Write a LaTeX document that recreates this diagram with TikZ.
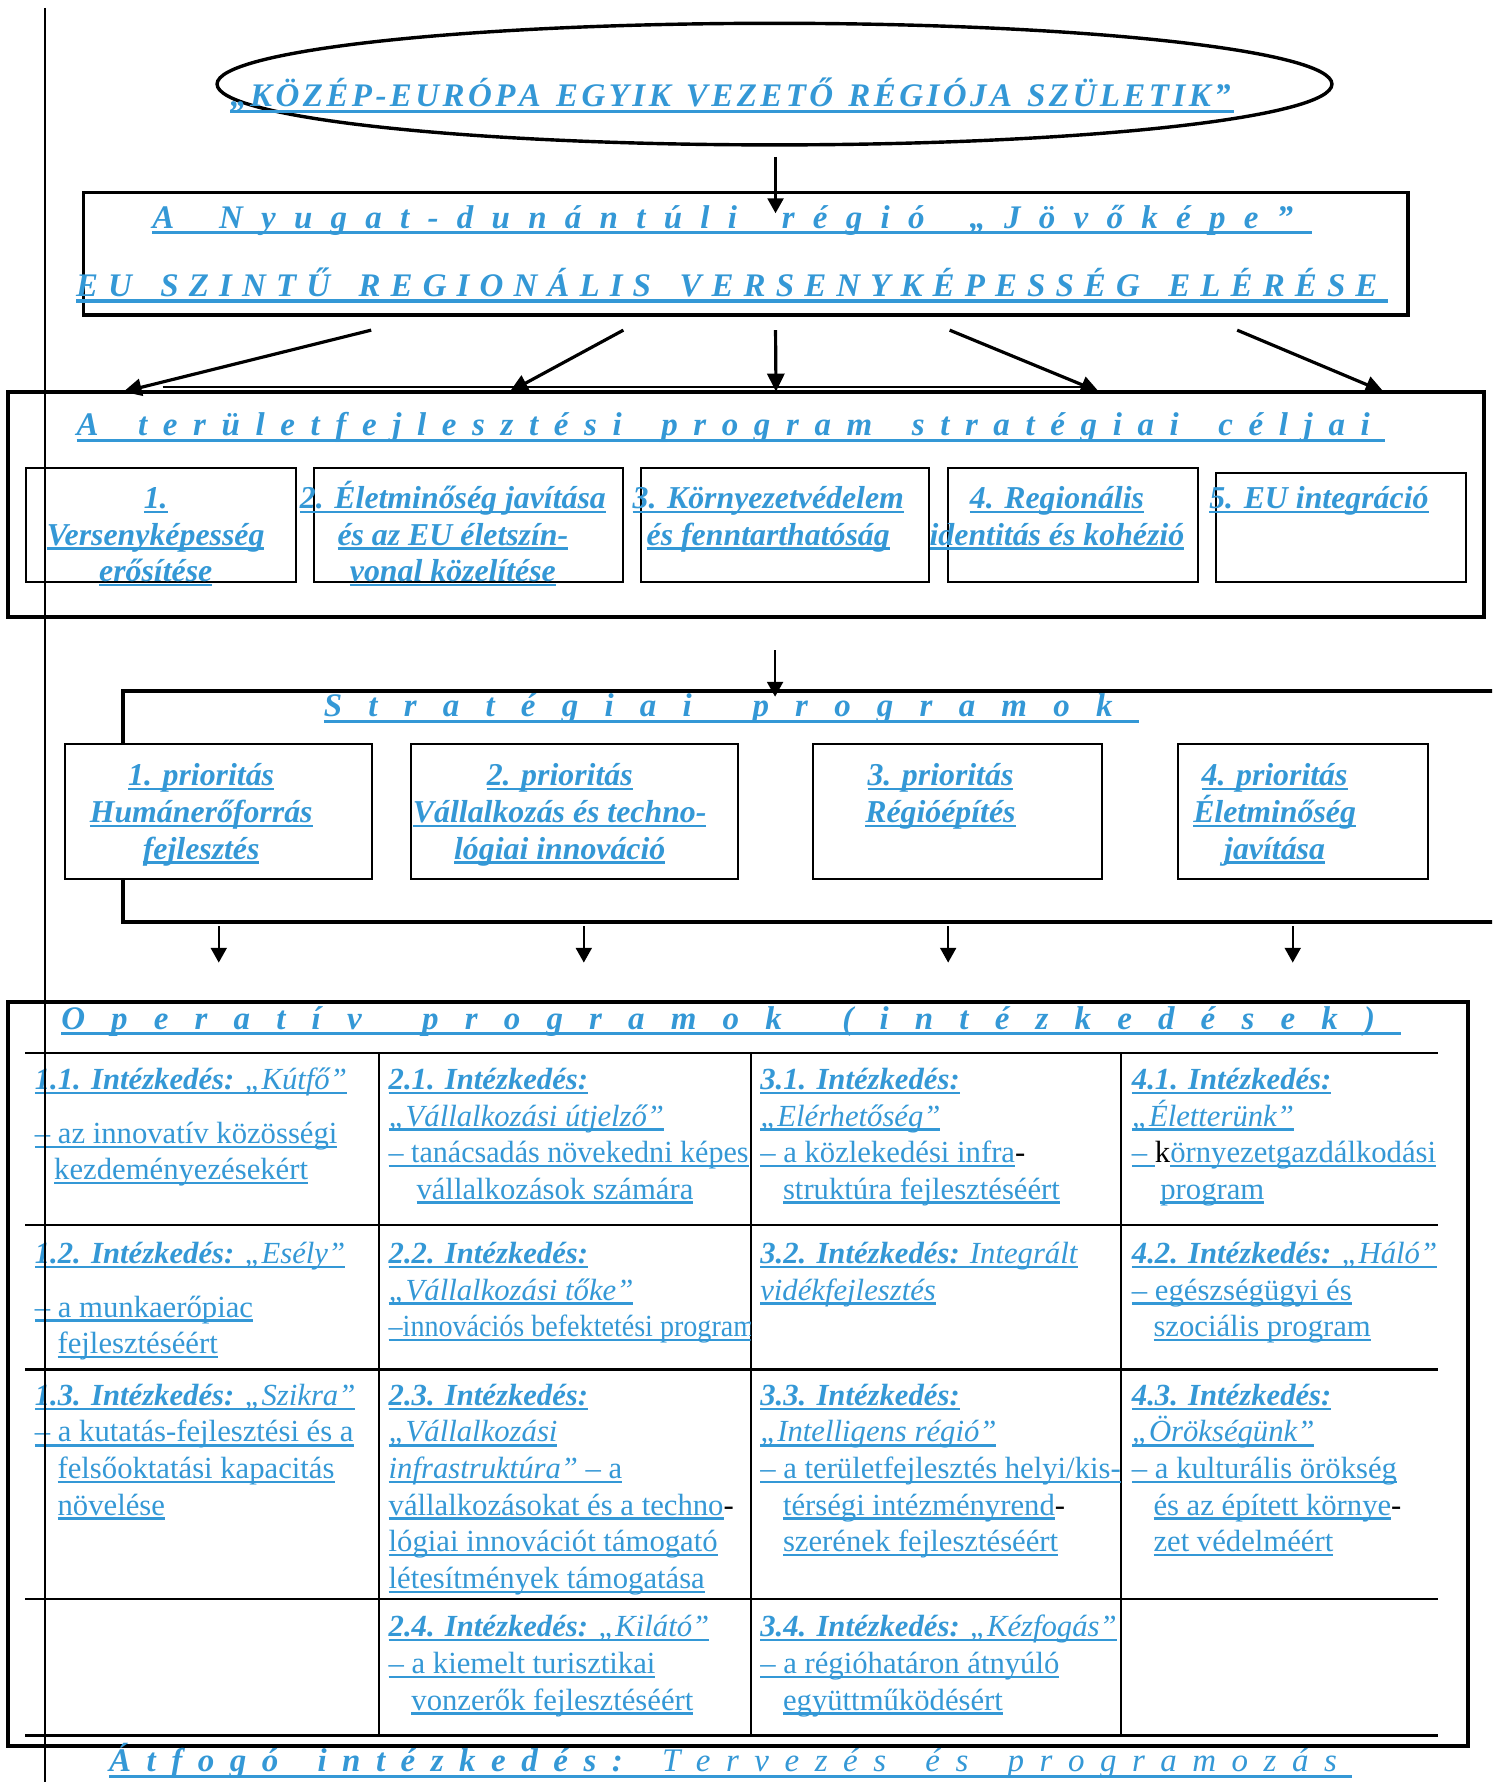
\documentclass[tikz,border=0pt]{standalone}
\usepackage{fontspec}
\usepackage{graphicx}
\setmainfont{Liberation Serif}
\usetikzlibrary{arrows.meta,shapes.geometric,calc,fit}
\definecolor{tblue}{RGB}{52,152,214}
\newdimen\pxu
\pxu=0.5pt
\ExplSyntaxOn
\bool_new:N \l_sp_first_bool
\seq_new:N \l_sp_words_seq
\NewDocumentCommand \spreadbox { m m }
  {
    \makebox [ #1 ] [ s ]
      {
        \seq_set_split:Nnn \l_sp_words_seq { ~ } { #2 }
        \bool_set_true:N \l_sp_first_bool
        \seq_map_inline:Nn \l_sp_words_seq
          {
            \bool_if:NF \l_sp_first_bool
              { \skip_horizontal:n { 0.25em plus 1fil } }
            \bool_set_false:N \l_sp_first_bool
            \tl_map_inline:nn { ##1 }
              {
                \token_if_cs:NTF ####1
                  { ####1 }
                  { ####1 \skip_horizontal:n { 0pt plus 1fil } }
              }
          }
      }
  }
\ExplSyntaxOff
\newcommand\ulin[1]{\setbox0=\hbox{#1}\rlap{\textcolor{tblue}{\rule[-4\pxu]{\wd0}{2\pxu}}}\box0}
\newcommand\ulT[1]{\setbox0=\hbox{#1}\rlap{\textcolor{tblue}{\rule[-5.5\pxu]{\wd0}{3\pxu}}}\box0}
\newcommand\cellv[1]{\vtop{\baselineskip=32.2\pxu\lineskiplimit=-100pt\lineskip=0pt\relax#1}}
\newcommand\Ln[2][0]{\hbox{\kern#1\pxu#2}}
\newcommand\Lc[1]{\hbox to 300\pxu{\hss#1\hss}}
\newcommand\HB[1]{{\bfseries\itshape#1}}
\newcommand\bk[1]{{\color{black}#1}}
\tikzset{
 txt/.style={inner sep=0pt, outer sep=0pt, text=tblue, font=\fontsize{13.5pt}{16pt}\selectfont, anchor=base west},
 btxt/.style={inner sep=0pt, outer sep=0pt, text=tblue, font=\fontsize{14pt}{16pt}\selectfont\bfseries\itshape, anchor=base},
 ttl/.style={inner sep=0pt, outer sep=0pt, text=tblue, font=\fontsize{14.5pt}{16pt}\selectfont\bfseries\itshape, anchor=base west},
 bigbox/.style={draw, line width=1.7pt, inner sep=0pt, outer sep=0pt},
 smallbox/.style={draw, line width=0.9pt, fill=white, inner sep=0pt, outer sep=0pt},
 arr/.style={line width=1pt, -{Triangle[length=6.5pt,width=7pt]}},
 darr/.style={line width=1.4pt, -{Triangle[length=8pt,width=7.5pt]}},
 tline/.style={line width=1pt},
}
\begin{document}
\begin{tikzpicture}[x=0.5pt,y=-0.5pt]
\useasboundingbox (0,0) rectangle (1313,1568);
\fill[white] (0,0) rectangle (1313,1568);
\clip (0,0) rectangle (1313,1568);

% ---------- ellipse ----------
\node[ellipse, draw, line width=1.5pt, minimum width=490.5pt, minimum height=53.5pt, inner sep=0pt] (ell) at (681.5,74) {};
\node[ttl] (ellT) at (202.6,93.9) {\ulT{\spreadbox{441.7pt}{„KÖZÉP-EURÓPA EGYIK VEZETŐ RÉGIÓJA SZÜLETIK”}}};

% ---------- box A ----------
\node[bigbox, line width=1.5pt, fit={(73.7,169.6) (1239,277)}] (boxA) {};
\node[ttl] (boxAt1) at (134,200.8) {\ulT{\spreadbox{510pt}{A Nyugat-dunántúli régió „Jövőképe”}}};
\node[ttl] (boxAt2) at (67,261) {\ulT{\spreadbox{577pt}{EU SZINTŰ REGIONÁLIS VERSENYKÉPESSÉG ELÉRÉSE}}};
\coordinate (e1) at (682.4,138);
\draw[arr] (e1) -- ($(e1 |- boxA.north)+(0,18)$);

% ---------- box B ----------
\node[bigbox, fit={(6.7,344.7) (1306,543)}] (boxB) {};
\draw[line width=0.6pt] (143,340.6) -- (954,340.6);
\foreach \a/\b/\n in {326.6/108.6/1, 548.5/448.5/2, 682.4/682.8/3, 835.6/967/4, 1088.6/1217.5/5}{
  \coordinate (s\n) at (\a,290.5);
  \coordinate (d\n) at (\b,344.7);
  \draw[darr] (s\n) -- (d\n);
}
\node[ttl] (boxBt) at (67.4,383.5) {\ulT{\spreadbox{575.8pt}{A területfejlesztési program stratégiai céljai}}};
\node[smallbox, fit={(23.1,411.6) (260.2,512.5)}] (g1) {};
\node[smallbox, fit={(276.7,411.6) (548.2,512.5)}] (g2) {};
\node[smallbox, fit={(564.2,411.6) (817.6,512.5)}] (g3) {};
\node[smallbox, fit={(834.4,411.6) (1054.2,512.5)}] (g4) {};
\node[smallbox, fit={(1070.2,416.5) (1290,512.5)}] (g5) {};
\node[btxt] (g1t) at (137,447.4) {\cellv{\Lc{\ulin{1.}}\Lc{\ulin{Versenyképesség}}\Lc{\ulin{erősítése}}}};
\node[btxt] (g2t) at (398.5,447.4) {\cellv{\Lc{\ulin{2. Életminőség javítása}}\Lc{\ulin{és az EU életszín-}}\Lc{\ulin{vonal közelítése}}}};
\node[btxt] (g3t) at (676,447.4) {\cellv{\Lc{\ulin{3. Környezetvédelem}}\Lc{\ulin{és fenntarthatóság}}}};
\node[btxt] (g4t) at (930,447.4) {\cellv{\Lc{\ulin{4. Regionális}}\Lc{\ulin{identitás és kohézió}}}};
\node[btxt] (g5t) at (1160.5,447.4) {\cellv{\Lc{\ulin{5. EU integráció}}}};

% ---------- box C ----------
\node[bigbox, fit={(108,608) (1330,811)}] (boxC) {};
\coordinate (e2) at (682,572);
\draw[arr] (e2) -- ($(e2 |- boxC.north)+(0,5)$);
\node[ttl] (boxCt) at (285,630.7) {\ulT{\spreadbox{358.5pt}{Stratégiai programok}}};
\node[smallbox, fit={(57.3,654.7) (327.5,773.2)}] (p1) {};
\node[smallbox, fit={(361.3,654.7) (649.3,773.2)}] (p2) {};
\node[smallbox, fit={(715.6,654.7) (969.5,773.2)}] (p3) {};
\node[smallbox, fit={(1036.5,654.7) (1256.3,773.2)}] (p4) {};
\node[btxt] (p1t) at (177,691.5) {\cellv{\Lc{\ulin{1. prioritás}}\Lc{\ulin{Humánerőforrás}}\Lc{\ulin{fejlesztés}}}};
\node[btxt] (p2t) at (492.5,691.5) {\cellv{\Lc{\ulin{2. prioritás}}\Lc{\ulin{Vállalkozás és techno-}}\Lc{\ulin{lógiai innováció}}}};
\node[btxt] (p3t) at (827.5,691.5) {\cellv{\Lc{\ulin{3. prioritás}}\Lc{\ulin{Régióépítés}}}};
\node[btxt] (p4t) at (1121.5,691.5) {\cellv{\Lc{\ulin{4. prioritás}}\Lc{\ulin{Életminőség}}\Lc{\ulin{javítása}}}};
\foreach \x/\n in {192.5/1,513.7/2,834.3/3,1137.5/4}{
  \coordinate (q\n) at (\x,815);
  \draw[arr] (q\n) -- ($(q\n)+(0,32)$);
}

% ---------- box D ----------
\node[bigbox, fit={(7,881.5) (1292,1536.5)}] (boxD) {};
\node[ttl] (boxDt) at (53.9,905.5) {\ulT{\spreadbox{589.5pt}{Operatív programok (intézkedések)}}};
\foreach \y in {926.5,1078,1205,1407,1527} \draw[tline] (22,\y) -- (1265,\y);
\foreach \x in {333.5,660.5,986.6} \draw[tline] (\x,926.5) -- (\x,1527);

% row 1
\node[txt] (c11) at (30.7,958.6) {\cellv{\Ln{\ulin{\HB{1.1. Intézkedés:} \textit{„Kútfő”}}}\vskip15.2\pxu\Ln{\ulin{– az innovatív közösségi}}\Ln[17]{\ulin{kezdeményezésekért}}}};
\begin{scope}
\clip (333.5,926.5) rectangle (660.5,1205);
\node[txt] (c21) at (342,958.6) {\cellv{\Ln{\ulin{\HB{2.1. Intézkedés:}}}\Ln{\ulin{\textit{„Vállalkozási útjelző”}}}\Ln{\scalebox{0.98}[1]{\ulin{– tanácsadás növekedni képes}}}\Ln[24.5]{\ulin{vállalkozások számára}}}};
\node[txt] (c22) at (342,1111.8) {\cellv{\Ln{\ulin{\HB{2.2. Intézkedés:}}}\Ln{\ulin{\textit{„Vállalkozási tőke”}}}\Ln{\scalebox{0.915}[1]{\ulin{–innovációs befektetési program}}}}};
\end{scope}
\node[txt] (c31) at (669,958.6) {\cellv{\Ln{\ulin{\HB{3.1. Intézkedés:}}}\Ln{\ulin{\textit{„Elérhetőség”}}}\Ln{\ulin{– a közlekedési infra}\bk{-}}\Ln[20]{\ulin{struktúra fejlesztéséért}}}};
\node[txt] (c41) at (996,958.6) {\cellv{\Ln{\ulin{\HB{4.1. Intézkedés:}}}\Ln{\ulin{\textit{„Életterünk”}}}\Ln{\ulin{– }\bk{k}\ulin{örnyezetgazdálkodási}}\Ln[25]{\ulin{program}}}};
% row 2
\node[txt] (c12) at (30.7,1111.8) {\cellv{\Ln{\ulin{\HB{1.2. Intézkedés:} \textit{„Esély”}}}\vskip15\pxu\Ln{\ulin{– a munkaerőpiac}}\Ln[20]{\ulin{fejlesztéséért}}}};
\node[txt] (c32) at (669,1111.8) {\cellv{\Ln{\ulin{\HB{3.2. Intézkedés:} \textit{Integrált}}}\Ln{\ulin{\textit{vidékfejlesztés}}}}};
\node[txt] (c42) at (996,1111.8) {\cellv{\Ln{\ulin{\HB{4.2. Intézkedés:} \textit{„Háló”}}}\Ln{\ulin{– egészségügyi és}}\Ln[19]{\ulin{szociális program}}}};
% row 3
\node[txt] (c13) at (30.7,1236.6) {\cellv{\Ln{\ulin{\HB{1.3. Intézkedés:} \textit{„Szikra”}}}\Ln{\ulin{– a kutatás-fejlesztési és a}}\Ln[20]{\ulin{felsőoktatási kapacitás}}\Ln[20]{\ulin{növelése}}}};
\node[txt] (c23) at (342,1236.6) {\cellv{\Ln{\ulin{\HB{2.3. Intézkedés:}}}\Ln{\ulin{\textit{„Vállalkozási}}}\Ln{\ulin{\textit{infrastruktúra”} – a}}\Ln{\ulin{vállalkozásokat és a techno}\bk{-}}\Ln{\ulin{lógiai innovációt támogató}}\Ln{\ulin{létesítmények támogatása}}}};
\node[txt] (c33) at (669,1236.6) {\cellv{\Ln{\ulin{\HB{3.3. Intézkedés:}}}\Ln{\ulin{\textit{„Intelligens régió”}}}\Ln{\ulin{– a területfejlesztés helyi/kis-}}\Ln[20]{\ulin{térségi intézményrend}\bk{-}}\Ln[20]{\ulin{szerének fejlesztéséért}}}};
\node[txt] (c43) at (996,1236.6) {\cellv{\Ln{\ulin{\HB{4.3. Intézkedés:}}}\Ln{\ulin{\textit{„Örökségünk”}}}\Ln{\ulin{– a kulturális örökség}}\Ln[19]{\ulin{és az épített környe}\bk{-}}\Ln[19]{\ulin{zet védelméért}}}};
% row 4
\node[txt] (c24) at (342,1440.3) {\cellv{\Ln{\ulin{\HB{2.4. Intézkedés:} \textit{„Kilátó”}}}\Ln{\ulin{– a kiemelt turisztikai}}\Ln[20]{\ulin{vonzerők fejlesztéséért}}}};
\node[txt] (c34) at (669,1440.3) {\cellv{\Ln{\ulin{\HB{3.4. Intézkedés:} \textit{„Kézfogás”}}}\Ln{\ulin{– a régióhatáron átnyúló}}\Ln[20]{\ulin{együttműködésért}}}};

% bottom title
\node[ttl] (bt) at (96,1559) {\ulT{\spreadbox{547pt}{Átfogó intézkedés: \mdseries Tervezés és programozás}}};

% page margin line
\draw[line width=0.9pt] (39.5,7) -- (39.5,1568);
\end{tikzpicture}
\end{document}
